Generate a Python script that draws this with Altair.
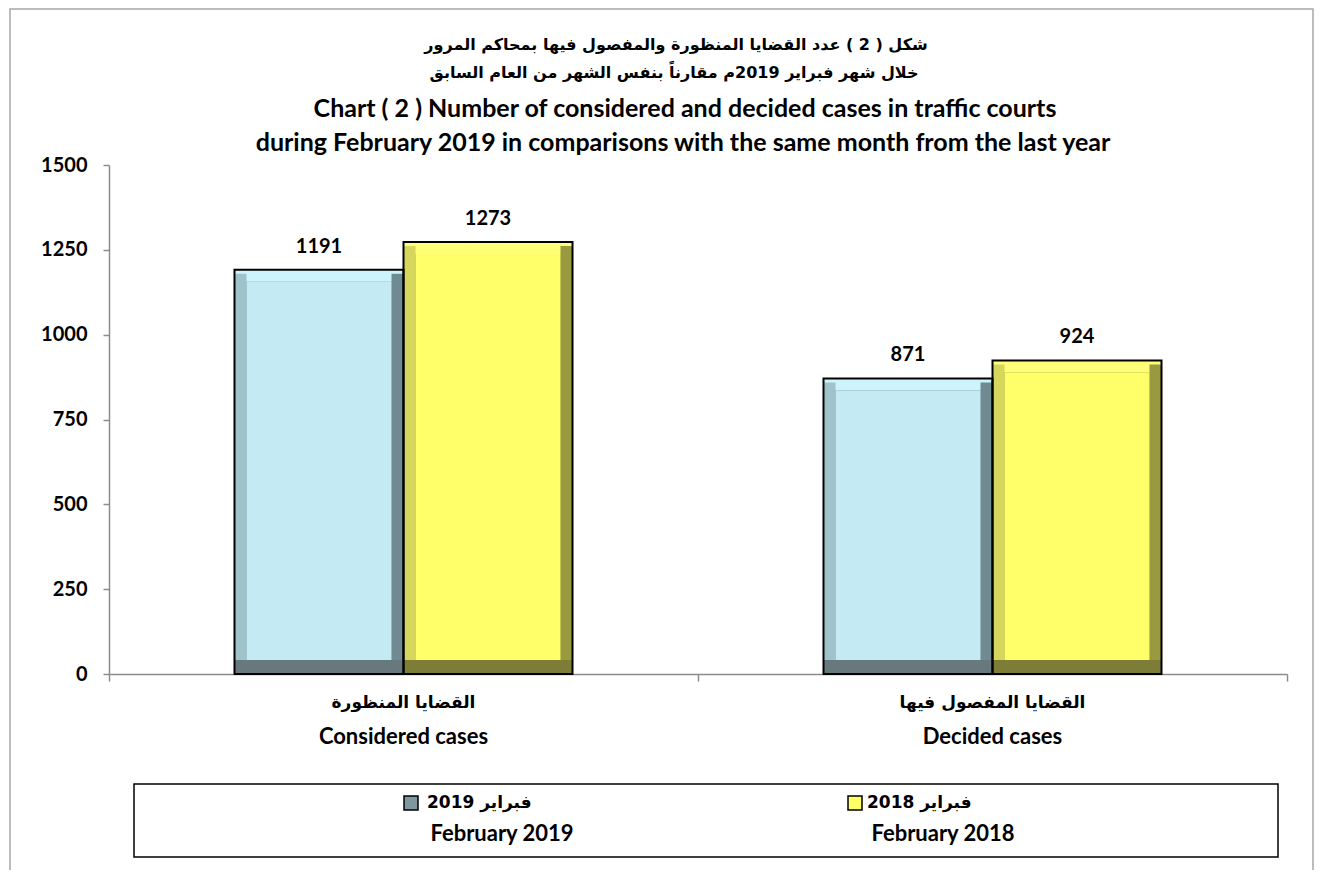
import altair as alt
import pandas as pd

categories = ["Considered cases", "Decided cases"]
categories_ar = ["القضايا المنظورة", "القضايا المفصول فيها"]
series = ["February 2019", "February 2018"]
series_ar = ["فبراير 2019", "فبراير 2018"]
values_2019 = [1191, 871]
values_2018 = [1273, 924]

title_lines = [
    "شكل ( 2 ) عدد القضايا المنظورة والمفصول فيها بمحاكم المرور",
    "خلال شهر فبراير 2019م مقارناً بنفس الشهر من العام السابق",
    "Chart ( 2 ) Number of considered and decided cases in traffic courts",
    "during February 2019 in comparisons with the same month from the last year",
]
y_ticks = [0, 250, 500, 750, 1000, 1250, 1500]

rows = []
for i, c in enumerate(categories):
    rows.append({"cat": c, "series": series[0], "value": values_2019[i]})
    rows.append({"cat": c, "series": series[1], "value": values_2018[i]})
df = pd.DataFrame(rows)
cat_df = pd.DataFrame({"cat": categories, "ar": categories_ar})

W, H = 1178, 509
BAND = W / 2
PAD_OUT = 0.7426
BW = 169
BV = 12
BB = 14
FONT = "Lato"
AR_FONT = "DejaVu Sans"

is19 = alt.datum.series == series[0]


def col(c19, c18):
    return alt.condition(is19, alt.value(c19), alt.value(c18))


def base(shift=0.0):
    return alt.Chart(df).encode(
        x=alt.X("cat:N", sort=categories,
                scale=alt.Scale(type="band", paddingInner=0, paddingOuter=0),
                axis=alt.Axis(title=None, labels=False, tickBand="extent", tickSize=7,
                              domainColor="#8c8c8c", tickColor="#8c8c8c", domainWidth=1.5, tickWidth=1.5)),
        xOffset=alt.XOffset("series:N", sort=series,
                            scale=alt.Scale(type="band", domain=series, range=[shift, BAND + shift],
                                            paddingInner=0, paddingOuter=PAD_OUT)),
        y=alt.Y("value:Q", scale=alt.Scale(domain=[0, 1500], nice=False),
                axis=alt.Axis(title=None, values=y_ticks, grid=False, tickSize=6, format="d",
                              labelFont=FONT, labelFontSize=20, labelFontWeight="bold",
                              labelColor="black", labelPadding=16,
                              domainColor="#8c8c8c", tickColor="#8c8c8c", domainWidth=1.5, tickWidth=1.5)),
        y2=alt.datum(0),
    )


EDGE = BW / 2 - BV / 2
outer = base().mark_bar(size=BW).encode(fill=col("#67797c", "#7d7d38"))
top = base().mark_bar(size=BW, y2Offset=BV).encode(y2=alt.Y2("value:Q"), fill=col("#cdf4fc", "#ffff78"))
left = base(-EDGE).mark_bar(size=BV, yOffset=4, y2Offset=-BB).encode(fill=col("#a0c3cb", "#d6d65c"))
right = base(EDGE).mark_bar(size=BV, yOffset=4, y2Offset=-BB).encode(fill=col("#6f8a90", "#999940"))
face = base().mark_bar(size=BW - 2 * BV, yOffset=BV, y2Offset=-BB).encode(fill=col("#c4eaf4", "#ffff6a"))
outline = base().mark_bar(size=BW, fillOpacity=0, stroke="black", strokeWidth=2)
labels = base().mark_text(font=FONT, fontSize=20, fontWeight="bold", baseline="bottom", dy=-13, color="black").encode(
    text=alt.Text("value:Q"))

cat_ar = alt.Chart(cat_df).mark_text(font=AR_FONT, fontSize=17, fontWeight="bold", color="black").encode(
    x=alt.X("cat:N", sort=categories), y=alt.value(538), text="ar:N")
cat_en = alt.Chart(cat_df).mark_text(font=FONT, fontSize=22, fontWeight="bold", color="black").encode(
    x=alt.X("cat:N", sort=categories), y=alt.value(572), text="cat:N")

title_df = pd.DataFrame({"t": title_lines})
t_pos = [(567, -120, AR_FONT, 16), (565, -92, AR_FONT, 16), (576, -56, FONT, 25), (574, -22, FONT, 25)]
title_layers = []
for i, (tx, ty, f, fs) in enumerate(t_pos):
    title_layers.append(
        alt.Chart(title_df).transform_filter(alt.datum.t == title_lines[i]).mark_text(
            font=f, fontSize=fs, fontWeight="bold", color="black").encode(
            x=alt.value(tx), y=alt.value(ty), text="t:N"))

border = alt.Chart(pd.DataFrame({"a": [0]})).mark_rect(fillOpacity=0, stroke="#a6a6a6", strokeWidth=1.5).encode(
    x=alt.value(-99), x2=alt.value(1204), y=alt.value(-156), y2=alt.value(720))

leg_box = alt.Chart(pd.DataFrame({"a": [0]})).mark_rect(fill="white", stroke="black", strokeWidth=1.5).encode(
    x=alt.value(25), x2=alt.value(1169), y=alt.value(619), y2=alt.value(692))

leg_df = pd.DataFrame({"series": series, "ar": series_ar})
leg_layers = []
sw_x = [295, 739]
ar_x = [318, 758]
en_x = [393, 834]
sw_fill = ["#7f98a0", "#ffff66"]
for i, s in enumerate(series):
    d = alt.Chart(leg_df).transform_filter(alt.datum.series == s)
    leg_layers.append(d.mark_rect(fill=sw_fill[i], stroke="black", strokeWidth=1.5).encode(
        x=alt.value(sw_x[i]), x2=alt.value(sw_x[i] + 14), y=alt.value(631), y2=alt.value(645)))
    leg_layers.append(d.mark_text(font=AR_FONT, fontSize=17, fontWeight="bold", align="left", color="black").encode(
        x=alt.value(ar_x[i]), y=alt.value(638), text="ar:N"))
    leg_layers.append(d.mark_text(font=FONT, fontSize=22, fontWeight="bold", color="black").encode(
        x=alt.value(en_x[i]), y=alt.value(669), text="series:N"))

chart = alt.layer(
    border, outer, top, left, right, face, outline, labels, cat_ar, cat_en,
    *title_layers, leg_box, *leg_layers
).resolve_scale(
    xOffset="independent"
).properties(
    width=W, height=H,
    autosize=alt.AutoSizeParams(type="none"),
    padding={"left": 101, "top": 157, "right": 28, "bottom": 196},
).configure_view(stroke=None)

chart.save("out.html", embed_options={"renderer": "svg", "actions": False})
